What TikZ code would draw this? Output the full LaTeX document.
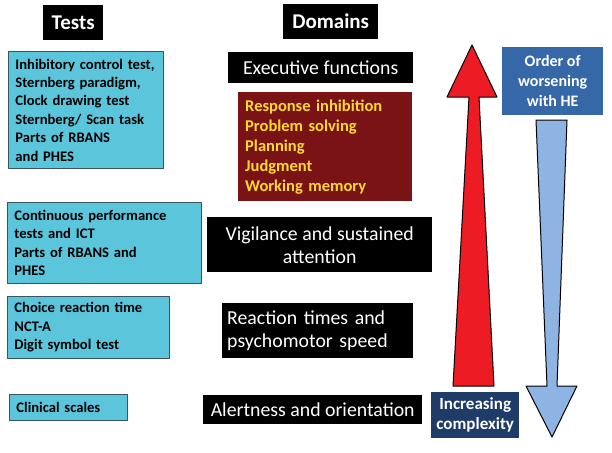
\documentclass[tikz,border=0pt]{standalone}
\usepackage{fontspec}
\setmainfont{Carlito}
\usepackage{xcolor}
\definecolor{testcyan}{RGB}{91,197,219}
\definecolor{testedge}{RGB}{58,84,100}
\definecolor{execred}{RGB}{122,19,21}
\definecolor{execyellow}{RGB}{255,217,46}
\definecolor{heblue}{RGB}{54,103,166}
\definecolor{navybox}{RGB}{31,60,104}
\definecolor{uparrow}{RGB}{237,28,36}
\definecolor{downarrow}{RGB}{142,180,227}

\tikzset{
  header/.style={fill=black, text=white, font=\fontsize{21}{22}\selectfont\bfseries, inner sep=0pt, anchor=north west},
  testbox/.style={fill=testcyan, draw=testedge, line width=0.9pt, text=black, align=left, inner xsep=7pt, inner ysep=0pt, anchor=north west, font=\fontsize{14.6}{18.4}\selectfont\bfseries},
  domainbox/.style={fill=black, text=white, inner sep=0pt, anchor=north west, font=\fontsize{19.8}{23}\selectfont},
  levelbox/.style={text=white, inner sep=0pt, anchor=north west, align=center, font=\fontsize{17}{20}\selectfont\bfseries}
}

\begin{document}
\begin{tikzpicture}[x=1pt, y=-1pt, line join = round]
\useasboundingbox (0,0) rectangle (612,452);

% headers
\node[header, minimum width=60, minimum height=35] (tests) at (43,5) {Tests};
\node[header, minimum width=95, minimum height=35] (domains) at (283,4) {Domains};

% tests
\node[testbox, text width=141, minimum height=117] (t1) at (8,51)
  {Inhibitory control test,\\ Sternberg paradigm,\\ Clock drawing test\\ Sternberg/ Scan task\\ Parts of RBANS\\ and PHES};
\node[testbox, text width=180, minimum height=81] (t2) at (7,202)
  {Continuous performance\\ tests and ICT\\ Parts of RBANS and\\ PHES};
\node[testbox, text width=148, minimum height=62] (t3) at (7,296)
  {Choice reaction time\\ NCT-A\\ Digit symbol test};
\node[testbox, text width=104, minimum height=26] (t4) at (9,394) {Clinical scales};

% domains
\node[domainbox, minimum width=185, minimum height=31] (exec) at (228,52) {Executive functions};
\node[fill=execred, text=execyellow, align=left, anchor=north west, inner xsep=7pt, inner ysep=0pt,
  text width=160, minimum height=109, font=\fontsize{16.5}{20}\selectfont\bfseries] (skills) at (238,92)
  {Response inhibition\\ Problem solving\\ Planning\\ Judgment\\ Working memory};
\node[domainbox, align=center, minimum width=225, minimum height=55] (vigil) at (207,217)
  {Vigilance and sustained\\ attention};
\node[domainbox, align=left, text width=181, inner xsep=5pt, minimum height=55] (react) at (222,303)
  {Reaction times and\\ psychomotor speed};
\node[domainbox, minimum width=219, minimum height=29] (alert) at (203,395) {Alertness and orientation};

% arrows
\draw[fill=uparrow, line width=1pt] (453,386) -- (469,97) -- (447,97) -- (472,45) -- (497,97)
  -- (479,97) -- (494,386) -- cycle;
\draw[fill=downarrow, line width=1pt] (536,120) -- (567,120) -- (557,386) -- (577,386) -- (552,437)
  -- (526,386) -- (547,386) -- cycle;

% order boxes
\node[levelbox, fill=heblue, minimum width=101, minimum height=68, font=\fontsize{16}{20}\selectfont\bfseries] (order) at (502,47)
  {Order of\\ worsening\\ with HE};
\node[levelbox, fill=navybox, minimum width=88, minimum height=46] (complex) at (431,392)
  {Increasing\\ complexity};
\end{tikzpicture}
\end{document}
